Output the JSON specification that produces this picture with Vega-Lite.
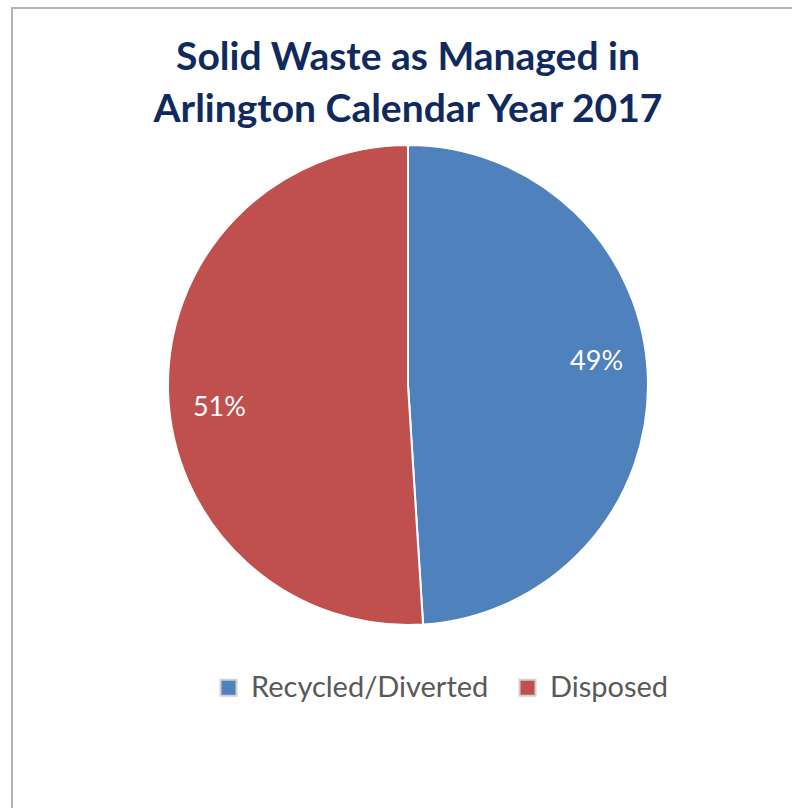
{
  "$schema": "https://vega.github.io/schema/vega-lite/v6.json",
  "width": 792,
  "height": 820,
  "autosize": {"type": "none"},
  "padding": {"left": 12, "top": 8, "right": 0, "bottom": 0},
  "background": "white",
  "view": {"stroke": "#b4b4b4", "strokeWidth": 2, "fill": "white"},
  "title": {
    "text": ["Solid Waste as Managed in", "Arlington Calendar Year 2017"],
    "font": "Lato",
    "fontSize": 39,
    "fontWeight": "bold",
    "color": "#102a5e",
    "lineHeight": 52,
    "anchor": "middle",
    "offset": -122
  },
  "data": {
    "values": [
      {"category": "Recycled/Diverted", "value": 49, "label": "49%"},
      {"category": "Disposed", "value": 51, "label": "51%"}
    ]
  },
  "encoding": {
    "theta": {"field": "value", "type": "quantitative", "stack": true},
    "order": {"field": "value", "sort": "ascending"},
    "color": {
      "field": "category",
      "type": "nominal",
      "scale": {"domain": ["Recycled/Diverted", "Disposed"], "range": ["#4f81bd", "#c0504d"]},
      "legend": {
        "title": null,
        "orient": "none",
        "legendX": 202,
        "legendY": 665,
        "direction": "horizontal",
        "symbolType": "square",
        "symbolSize": 256,
        "symbolStrokeColor": "#d0d0d0",
        "symbolStrokeWidth": 2,
        "labelFont": "Lato",
        "labelFontSize": 29,
        "labelColor": "#595959",
        "labelLimit": 0,
        "labelOffset": 8,
        "columnPadding": 24
      }
    }
  },
  "layer": [
    {"mark": {"type": "arc", "outerRadius": 240, "stroke": "white", "strokeWidth": 2, "yOffset": -33}},
    {"mark": {"type": "text", "radius": 190, "thetaOffset": -0.09, "yOffset": -33, "font": "Lato", "fontSize": 27, "fill": "white"},
     "encoding": {"text": {"field": "label"}}}
  ]
}
